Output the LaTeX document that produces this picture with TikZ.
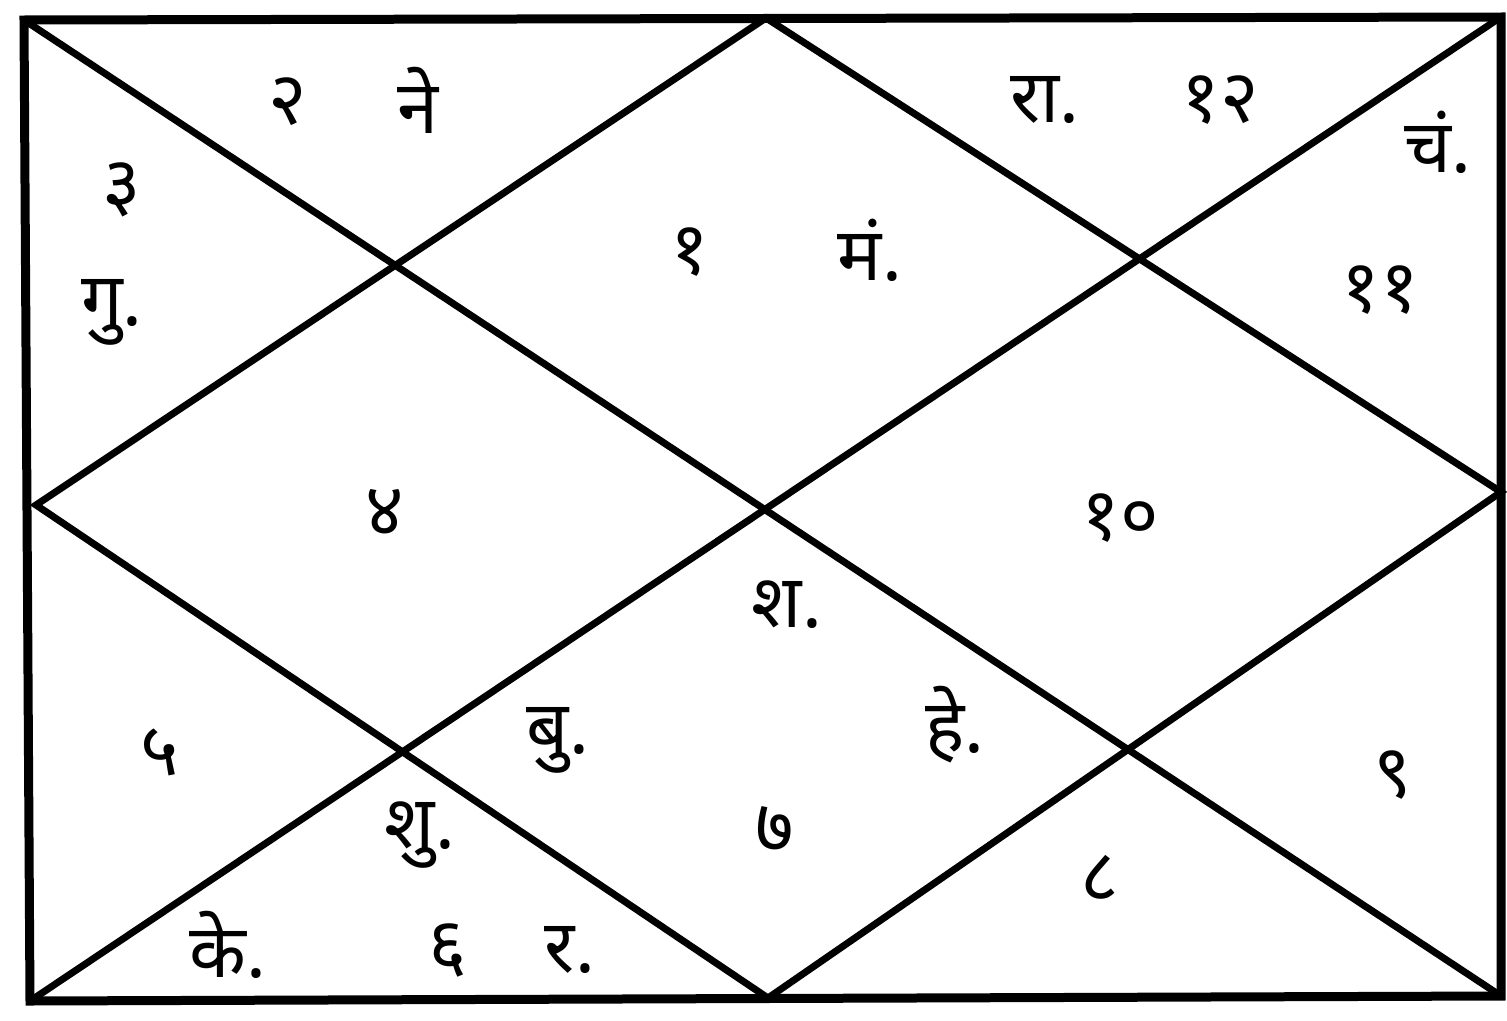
\documentclass[tikz,border=0pt]{standalone}
\usepackage{fontspec}
\newfontfamily\deva[Script=Devanagari]{Noto Sans}
\begin{document}
\begin{tikzpicture}[x=1pt,y=-1pt,
  frame/.style={line width=9pt,line join=miter,line cap=rect},
  diag/.style={line width=7pt,line cap=round},
  lbl/.style={font=\deva\bfseries\fontsize{74}{80}\selectfont,inner sep=0pt}]
\useasboundingbox[fill=white] (0,0) rectangle (1507,1020);
\coordinate (TL) at (24,20);
\coordinate (TR) at (1501,17);
\coordinate (BR) at (1501,996);
\coordinate (BL) at (30,1001);
\coordinate (T) at (766,18);
\coordinate (R) at (1501,492);
\coordinate (B) at (768,998);
\coordinate (L) at (36,505);
\draw[frame] (TL) -- (TR) -- (BR) -- (BL) -- cycle;
\draw[diag] (TL) -- (BR);
\draw[diag] (TR) -- (BL);
\draw[diag] (T) -- (R) -- (B) -- (L) -- cycle;
% house 1
\node[lbl] (h1n) at (690,252) {१};
\node[lbl] (h1p) at (870,250) {मं.};
% house 2
\node[lbl] (h2n) at (288,102) {२};
\node[lbl] (h2p) at (418,100) {ने};
% house 3
\node[lbl] (h3n) at (122,190) {३};
\node[lbl] (h3p) at (112,312) {गु.};
% house 4
\node[lbl] (h4n) at (385,512) {४};
% house 5
\node[lbl] (h5n) at (160,752) {५};
% house 6
\node[lbl] (h6a) at (420,835) {शु.};
\node[lbl] (h6b) at (228,945) {के.};
\node[lbl] (h6n) at (448,950) {६};
\node[lbl] (h6c) at (570,950) {र.};
% house 7
\node[lbl] (h7a) at (787,605) {श.};
\node[lbl] (h7b) at (558,740) {बु.};
\node[lbl] (h7c) at (955,725) {हे.};
\node[lbl] (h7n) at (775,830) {७};
% house 8
\node[lbl] (h8n) at (1100,878) {८};
% house 9
\node[lbl] (h9n) at (1393,775) {९};
% house 10
\node[lbl] (h10n) at (1120,518) {१०};
% house 11
\node[lbl] (h11p) at (1438,142) {चं.};
\node[lbl] (h11n) at (1380,290) {११};
% house 12
\node[lbl] (h12p) at (1045,100) {रा.};
\node[lbl] (h12n) at (1220,100) {१२};
\end{tikzpicture}
\end{document}
